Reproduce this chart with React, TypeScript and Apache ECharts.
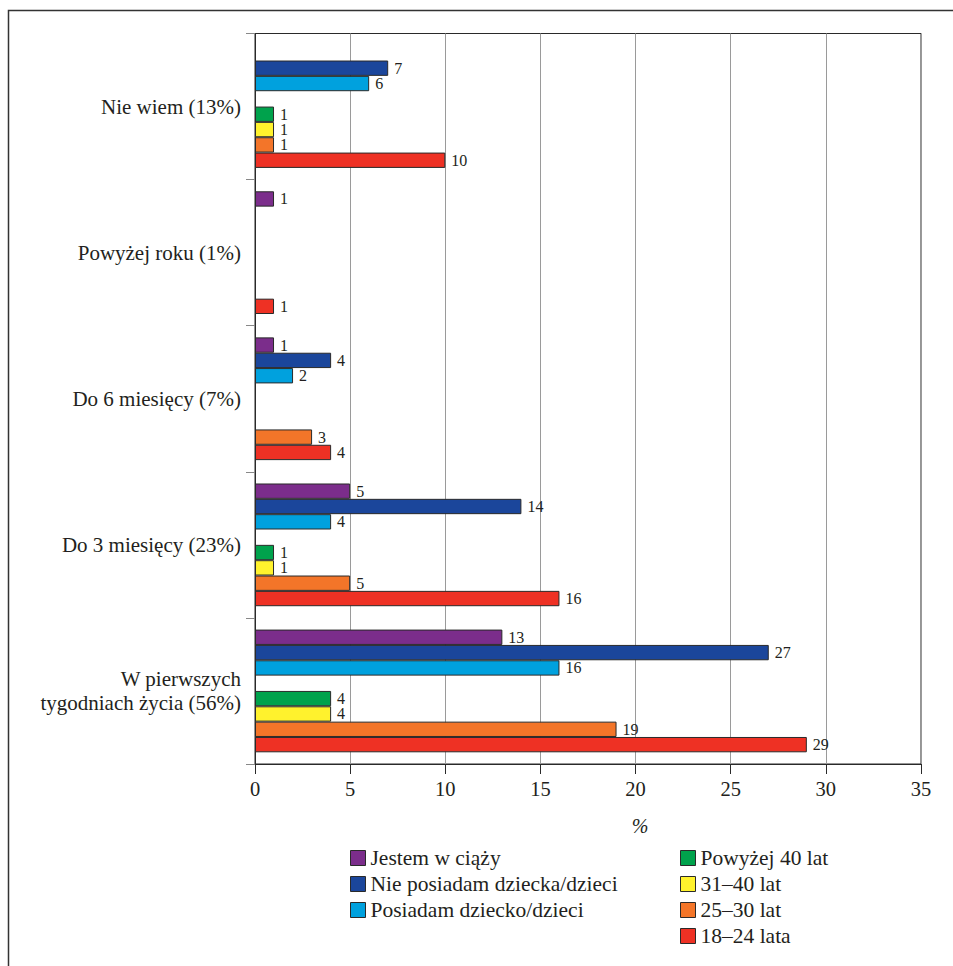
import React, { useEffect, useRef } from "react";
import * as echarts from "echarts";

// Categories, listed bottom-to-top as they appear on the value axis
const categories = [
  "W pierwszych\ntygodniach życia (56%)",
  "Do 3 miesięcy (23%)",
  "Do 6 miesięcy (7%)",
  "Powyżej roku (1%)",
  "Nie wiem (13%)",
];

const seriesNames = [
  "Jestem w ciąży",
  "Nie posiadam dziecka/dzieci",
  "Posiadam dziecko/dzieci",
  "Powyżej 40 lat",
  "31–40 lat",
  "25–30 lat",
  "18–24 lata",
];

const jestemWCiazy = [13, 5, 1, 1, null];
const niePosiadam = [27, 14, 4, null, 7];
const posiadam = [16, 4, 2, null, 6];
const powyzej40 = [4, 1, null, null, 1];
const lat31_40 = [4, 1, null, null, 1];
const lat25_30 = [19, 5, 3, null, 1];
const lat18_24 = [29, 16, 4, 1, 10];

const xTicks = { min: 0, max: 35, interval: 5 };

const colors = ["#7b2d8b", "#1b469b", "#00a1de", "#00a24c", "#fff22d", "#f37529", "#ee3124"];

const FONT = "Liberation Serif";
const INK = "#231f20";

export default function App() {
  const ref = useRef<HTMLDivElement>(null);

  useEffect(() => {
    if (!ref.current) return;
    const chart = echarts.init(ref.current, undefined, { renderer: "svg" });

    const groups = [jestemWCiazy, niePosiadam, posiadam, null, powyzej40, lat31_40, lat25_30, lat18_24];
    let colorIdx = 0;
    const series = groups.map((data) => {
      if (data === null) {
        // empty slot separating the status group from the age group
        return {
          type: "bar",
          name: "_spacer",
          data: categories.map(() => null),
          barGap: "0%",
          barCategoryGap: "16%",
          silent: true,
        };
      }
      const c = colors[colorIdx];
      const name = seriesNames[colorIdx];
      colorIdx++;
      return {
        type: "bar",
        name,
        data,
        barGap: "0%",
        barCategoryGap: "16%",
        itemStyle: { color: c, borderColor: "#2a2a2a", borderWidth: 1 },
        label: {
          show: true,
          position: "right",
          distance: 6,
          fontFamily: FONT,
          fontSize: 16,
          lineHeight: 15,
          color: INK,
        },
      };
    });

    const legendBase = {
      orient: "vertical",
      icon: "rect",
      itemWidth: 15,
      itemHeight: 15,
      itemGap: 4,
      padding: 0,
      textStyle: { fontFamily: FONT, fontSize: 21.5, color: INK, lineHeight: 21 },
      itemStyle: { borderColor: "#2a2a2a", borderWidth: 1 },
      selectedMode: false,
    };

    chart.setOption({
      animation: false,
      color: colors,
      grid: {
        left: 255,
        right: 32,
        top: 33.5,
        bottom: 202,
        show: true,
        borderColor: "#2a2a2a",
        borderWidth: 1,
        backgroundColor: "transparent",
      },
      xAxis: {
        type: "value",
        min: xTicks.min,
        max: xTicks.max,
        interval: xTicks.interval,
        axisLine: { show: true, lineStyle: { color: "#2a2a2a", width: 1 } },
        axisTick: { show: true, length: 10, lineStyle: { color: "#2a2a2a" } },
        axisLabel: { fontFamily: FONT, fontSize: 20.5, color: INK, margin: 14 },
        splitLine: { show: true, lineStyle: { color: "#9a9a9a", width: 1 } },
      },
      yAxis: {
        type: "category",
        data: categories,
        axisLine: { show: true, lineStyle: { color: "#2a2a2a", width: 1 } },
        axisTick: { show: true, length: 9, lineStyle: { color: "#888" } },
        axisLabel: {
          fontFamily: FONT,
          fontSize: 21,
          color: INK,
          margin: 14,
          lineHeight: 24,
          align: "right",
        },
        splitLine: { show: false },
      },
      legend: [
        { ...legendBase, left: 350, top: 847, data: seriesNames.slice(0, 3) },
        { ...legendBase, left: 680, top: 847, data: seriesNames.slice(3) },
      ],
      graphic: [
        {
          type: "rect",
          shape: { x: 8.5, y: 10.5, width: 1200, height: 1200 },
          style: { fill: "none", stroke: "#333", lineWidth: 1.5 },
          silent: true,
        },
        {
          type: "text",
          x: 640,
          y: 826,
          style: {
            text: "%",
            fontFamily: FONT,
            fontSize: 20,
            fontStyle: "italic",
            fill: INK,
            align: "center",
            verticalAlign: "middle",
          },
        },
      ],
      series,
    });

    return () => chart.dispose();
  }, []);

  return (
    <div
      ref={ref}
      style={{ position: "fixed", left: 0, top: 0, width: 953, height: 966, background: "#fff" }}
    />
  );
}
